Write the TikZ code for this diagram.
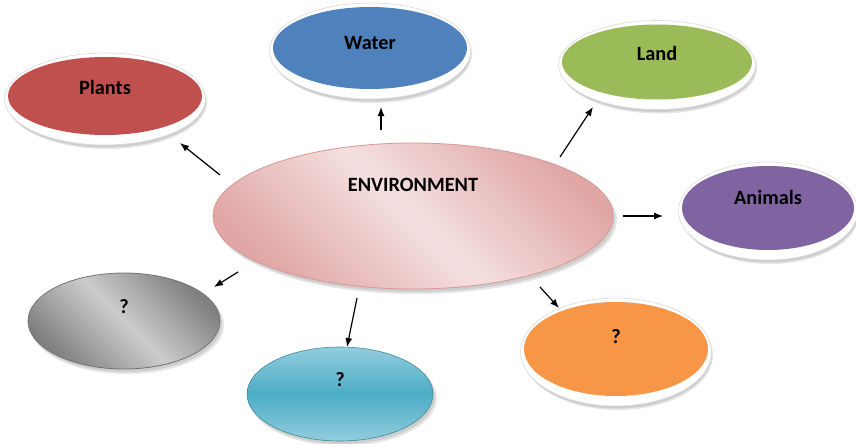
\documentclass[tikz,border=0pt]{standalone}
\usepackage{fontspec}
\setmainfont{Carlito}
\usetikzlibrary{shapes.geometric,arrows.meta,calc}
\definecolor{cplants}{HTML}{C0504D}
\definecolor{cwater}{HTML}{4F81BD}
\definecolor{cland}{HTML}{9BBB59}
\definecolor{canimals}{HTML}{8064A2}
\definecolor{corange}{HTML}{F79646}
\definecolor{ccyan}{HTML}{4BACC6}
\definecolor{ccyanl}{HTML}{93CDDD}
\definecolor{cpinkd}{HTML}{E0A7A6}
\definecolor{cpinkl}{HTML}{F4E0E0}
\definecolor{cpinkb}{HTML}{D99694}
\tikzset{
  lbl/.style={font=\fontsize{20.3}{23}\selectfont\bfseries, inner sep=0pt, text=black},
  arr/.style={draw=black, line width=1.2pt, -{Latex[length=9pt,width=7pt]}},
  softshadow/.style={fill=black, opacity=0.10},
  rim/.style={fill=white, draw=black!15, line width=0.6pt},
}
% #1 name, #2 x, #3 y, #4 rx, #5 ry, #6 fill style, #7 text, #8 text offset, #9 rim flag
\newcommand{\mybubble}[9]{%
  \ifnum#9=1
    \fill[softshadow] (#2+2,#3+6) ellipse [x radius=#4+3, y radius=#5+8];
    \fill[softshadow] (#2+1,#3+5) ellipse [x radius=#4+3, y radius=#5+7.5];
    \path[rim] (#2,#3+3) ellipse [x radius=#4+3.5, y radius=#5+7];
  \else
    \fill[softshadow] (#2+3,#3+4) ellipse [x radius=#4+1, y radius=#5+1];
    \fill[softshadow] (#2+2,#3+3) ellipse [x radius=#4, y radius=#5];
  \fi
  \node[ellipse, inner sep=0pt, minimum width=2*#4, minimum height=2*#5, #6] (#1) at (#2,#3) {};
  \node[lbl] (#1-t) at (#2,#3-#8) {#7};%
}
\begin{document}
\begin{tikzpicture}[x=1pt, y=-1pt]
  \useasboundingbox (0,0) rectangle (856,444);
  % central
  \mybubble{env}{413}{216}{200}{73}{draw=cpinkb, line width=0.8pt, top color=cpinkd, bottom color=cpinkd, middle color=cpinkl, shading angle=-45}{ENVIRONMENT}{31}{0}
  % outer bubbles
  \mybubble{plants}{105}{96}{97}{39}{fill=cplants}{Plants}{9}{1}
  \mybubble{water}{370}{48}{97}{41}{fill=cwater}{Water}{5}{1}
  \mybubble{land}{657}{62}{95}{37.5}{fill=cland}{Land}{9}{1}
  \mybubble{animals}{768}{208}{86}{42}{fill=canimals}{Animals}{11}{1}
  \mybubble{orange}{616}{349}{92}{47}{fill=corange}{?}{12}{1}
  \mybubble{grey}{124}{321}{96}{48}{draw=black!55, line width=0.8pt, top color=black!50, bottom color=black!50, middle color=black!20, shading angle=-45}{?}{14}{0}
  \mybubble{cyan}{340}{394}{93}{47}{draw=ccyan!80!black, line width=0.6pt, top color=ccyanl, bottom color=ccyanl, middle color=ccyan}{?}{14}{0}
  % connectors
  \coordinate (s1) at (220,175); \coordinate (e1) at (180,143);
  \coordinate (s2) at (381,130); \coordinate (e2) at (381,107);
  \coordinate (s3) at (560,157); \coordinate (e3) at (593,107);
  \coordinate (s4) at (623,216); \coordinate (e4) at (663,216);
  \coordinate (s5) at (540,287); \coordinate (e5) at (559,308);
  \coordinate (s6) at (357,298); \coordinate (e6) at (347,347);
  \coordinate (s7) at (238,272); \coordinate (e7) at (214,287);
  \draw[arr] (s1) -- (e1);
  \draw[arr] (s2) -- (e2);
  \draw[arr] (s3) -- (e3);
  \draw[arr] (s4) -- (e4);
  \draw[arr] (s5) -- (e5);
  \draw[arr] (s6) -- (e6);
  \draw[arr] (s7) -- (e7);
\end{tikzpicture}
\end{document}
